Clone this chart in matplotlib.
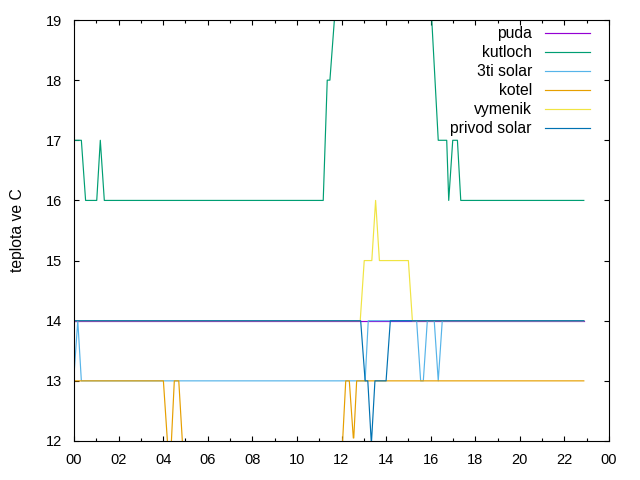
import matplotlib
matplotlib.use("Agg")
import matplotlib.pyplot as plt

plt.rcParams['font.family'] = ['Liberation Sans', 'DejaVu Sans']

# time in hours, temperature in C
puda_t = [0.0, 22.87]
puda_v = [14, 14]

kutloch_t = [0.0, 0.33, 0.52, 1.02, 1.18, 1.36, 11.18, 11.36, 11.48, 11.68, 12.3, 15.2, 16.05, 16.34, 16.72, 16.81, 16.99, 17.2, 17.35, 22.87]
kutloch_v = [17, 17, 16, 16, 17, 16, 16, 18, 18, 19, 21, 21, 19, 17, 17, 16, 17, 17, 16, 16]

solar3_t = [0.0, 0.17, 0.33, 13.06, 13.2, 15.37, 15.55, 15.67, 15.85, 16.16, 16.34, 16.52, 22.87]
solar3_v = [13.1, 14, 13, 13, 14, 14, 13, 13, 14, 14, 13, 14, 14]

kotel_t = [0.0, 4.01, 4.19, 4.27, 4.37, 4.5, 4.7, 4.86, 5.1, 11.8, 12.05, 12.19, 12.35, 12.53, 12.55, 12.68, 22.87]
kotel_v = [13, 13, 12, 11.7, 12, 13, 13, 12, 11, 11, 12, 13, 13, 12.05, 12.05, 13, 13]

vymenik_t = [0.0, 12.84, 13.02, 13.36, 13.53, 13.7, 15.0, 15.18, 22.87]
vymenik_v = [14, 14, 15, 15, 16, 15, 15, 14, 14]

privod_t = [0.0, 12.86, 13.06, 13.18, 13.34, 13.5, 14.0, 14.19, 22.87]
privod_v = [14, 14, 13, 13, 11.95, 13, 13, 14, 14]

series = [
    ("puda", puda_t, puda_v, "#9400D3"),
    ("kutloch", kutloch_t, kutloch_v, "#009E73"),
    ("3ti solar", solar3_t, solar3_v, "#56B4E9"),
    ("kotel", kotel_t, kotel_v, "#E69F00"),
    ("vymenik", vymenik_t, vymenik_v, "#F0E442"),
    ("privod solar", privod_t, privod_v, "#0072B2"),
]

fig = plt.figure(figsize=(6.4, 4.8), dpi=100)
ax = fig.add_axes([74 / 640, 39 / 480, 535 / 640, 421 / 480])

for name, t, v, c in series:
    ax.plot(t, v, color=c, lw=0.85)

ax.set_xlim(0, 24)
ax.set_ylim(12, 19)
ax.set_xticks(range(0, 25, 2))
ax.set_xticklabels([f"{h % 24:02d}" for h in range(0, 25, 2)])
ax.set_xticks(range(1, 24, 2), minor=True)
ax.set_yticks(range(12, 20))
ax.tick_params(which='both', direction='in', top=True, right=True, labelsize=10.5)
ax.tick_params(which='major', length=3.5, width=0.8, pad=8.5)
ax.tick_params(which='minor', length=2, width=0.8)
ax.set_ylabel("teplota ve C", fontsize=11.3, labelpad=15)

# gnuplot-style key: right-aligned labels with line samples to the right
ty, dy = 0.9684, 0.0451
for i, (name, t, v, c) in enumerate(series):
    y = ty - i * dy
    ax.plot([0.8804, 0.9645], [y, y], color=c, lw=0.85, transform=ax.transAxes, clip_on=False)
    ax.text(0.856, y, name, ha='right', va='center', fontsize=11.3, transform=ax.transAxes)

fig.savefig("out.png", dpi=100)
